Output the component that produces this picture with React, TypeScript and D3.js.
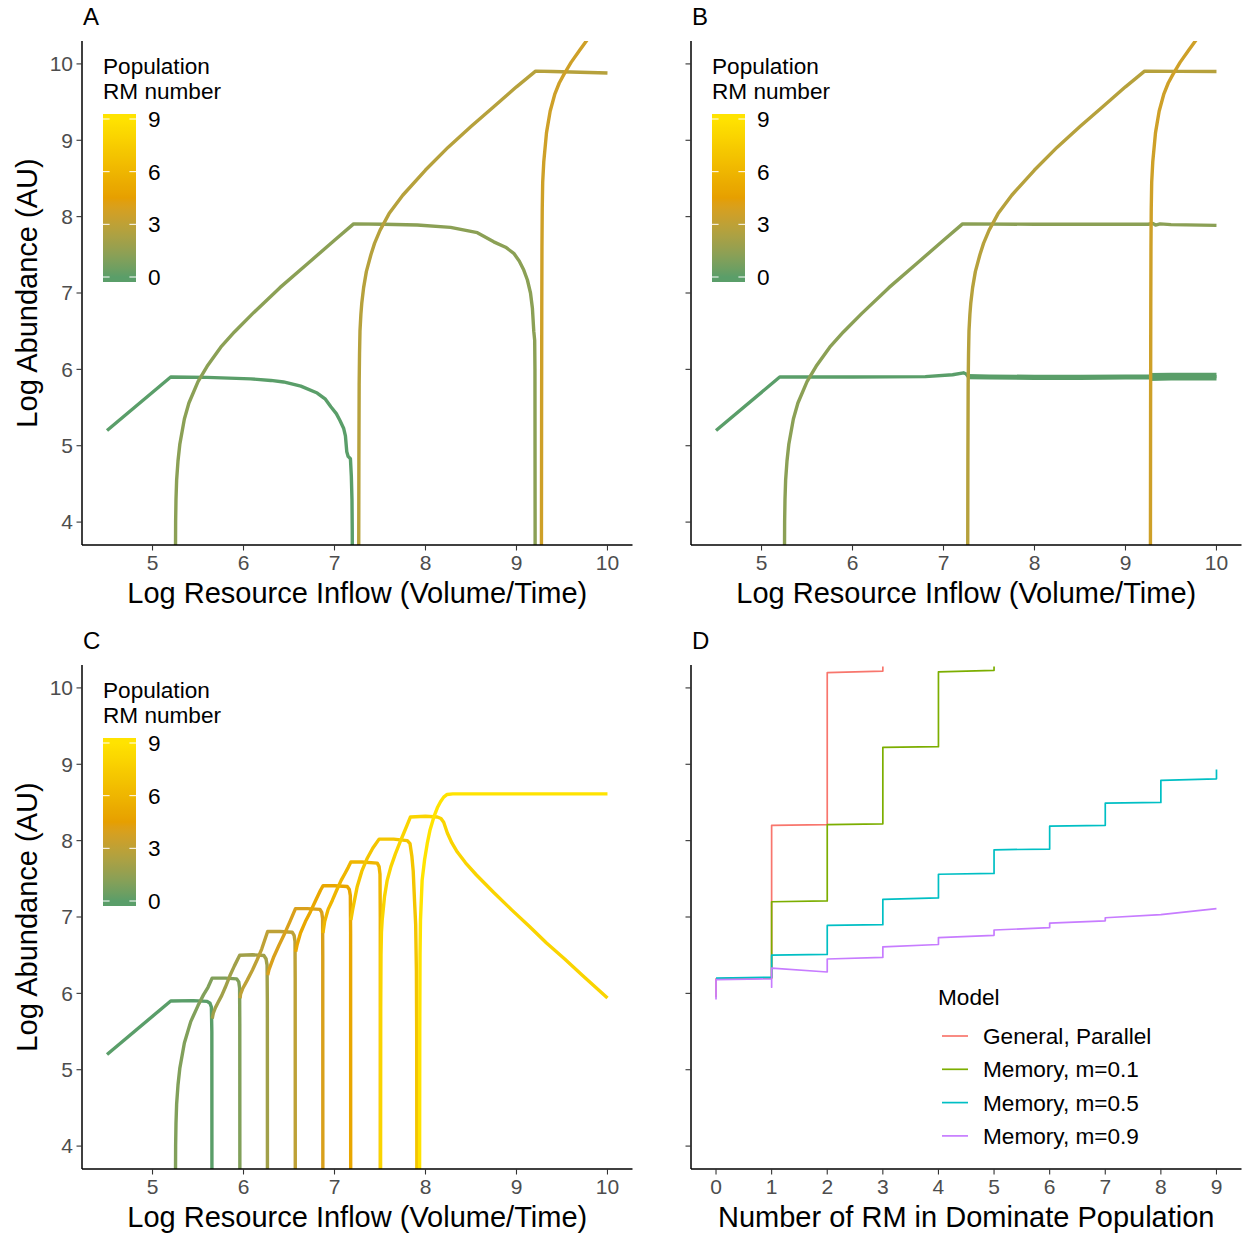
import React from 'react';
import * as d3 from 'd3';

type Pt = [number, number];

// ---------- tick values ----------
const yTicks = [4, 5, 6, 7, 8, 9, 10];
const xTicksInflow = [5, 6, 7, 8, 9, 10];
const xTicksRM = [0, 1, 2, 3, 4, 5, 6, 7, 8, 9];
const rmLegendTicks = [0, 3, 6, 9];

// colour values (Population RM number)
const rmValuesAB = [0, 1.3, 2.7, 3.6];
const rmValuesC = [0, 1, 2, 3, 4, 5, 6, 7, 8, 9];

// ---------- Panel A ----------
const A_rm0: Pt[] = [[4.5,5.2],[5.2,5.9],[5.6,5.895],[6.08,5.875],[6.3,5.855],[6.44,5.835],[6.63,5.78],[6.81,5.69],[6.9,5.61],[6.96,5.51],[7.02,5.42],[7.06,5.33],[7.1,5.23],[7.12,5.13],[7.135,4.92],[7.15,4.86],[7.175,4.83],[7.185,4.6],[7.192,4.3],[7.195,3.9],[7.196,3.5]];
const A_rm1: Pt[] = [[5.252,3.5],[5.254,4.0],[5.258,4.3],[5.265,4.55],[5.28,4.8],[5.3,5.02],[5.35,5.35],[5.4,5.56],[5.5,5.84],[5.6,6.04],[5.75,6.29],[5.9,6.49],[6.1,6.73],[6.4,7.07],[6.7,7.38],[7.0,7.69],[7.21,7.905],[7.54,7.9],[7.91,7.89],[8.275,7.86],[8.57,7.79],[8.75,7.67],[8.88,7.6],[8.97,7.52],[9.03,7.42],[9.08,7.3],[9.12,7.17],[9.154,7.0],[9.175,6.8],[9.19,6.5],[9.2,6.38],[9.203,6.0],[9.205,3.5]];
const A_rm2: Pt[] = [[7.266,3.5],[7.268,4.8],[7.271,5.8],[7.275,6.2],[7.28,6.5],[7.29,6.72],[7.3,6.87],[7.32,7.07],[7.35,7.28],[7.4,7.5],[7.44,7.65],[7.5,7.82],[7.6,8.04],[7.75,8.28],[8.0,8.61],[8.25,8.91],[8.5,9.18],[8.75,9.44],[9.0,9.7],[9.21,9.905],[9.4,9.9],[9.7,9.89],[10,9.88]];
const A_rm3: Pt[] = [[9.274,3.5],[9.276,5.5],[9.278,6.8],[9.28,7.6],[9.283,8.1],[9.288,8.45],[9.3,8.72],[9.33,9.1],[9.37,9.38],[9.42,9.6],[9.47,9.75],[9.52,9.86],[9.6,10.02],[9.7,10.19],[9.78,10.32],[9.86,10.45]];

// ---------- Panel B ----------
const B_rm0: Pt[] = [[4.5,5.2],[5.2,5.9],[6.0,5.9],[6.8,5.905],[7.1,5.93],[7.22,5.955],[7.25,5.94],[7.27,5.905],[7.5,5.9],[8.0,5.895],[8.5,5.895],[9.0,5.9],[9.26,5.9],[9.5,5.905],[10,5.905]];
const B_rm0_noise = [
  { from: 7.27, to: 9.26, amp: 0.012 },
  { from: 9.26, to: 10, amp: 0.03 },
];
const B_rm1: Pt[] = [[5.252,3.5],[5.254,4.0],[5.258,4.3],[5.265,4.55],[5.28,4.8],[5.3,5.02],[5.35,5.35],[5.4,5.56],[5.5,5.84],[5.6,6.04],[5.75,6.29],[5.9,6.49],[6.1,6.73],[6.4,7.07],[6.7,7.38],[7.0,7.69],[7.21,7.905],[8.0,7.9],[8.5,7.9],[9.0,7.9],[9.25,7.9],[9.3,7.912],[9.33,7.89],[9.38,7.905],[9.5,7.895],[10,7.885]];
const B_rm2: Pt[] = [[7.266,3.5],[7.268,4.8],[7.271,5.8],[7.275,6.2],[7.28,6.5],[7.29,6.72],[7.3,6.87],[7.32,7.07],[7.35,7.28],[7.4,7.5],[7.44,7.65],[7.5,7.82],[7.6,8.04],[7.75,8.28],[8.0,8.61],[8.25,8.91],[8.5,9.18],[8.75,9.44],[9.0,9.7],[9.21,9.905],[9.6,9.902],[10,9.9]];
const B_rm3: Pt[] = [[9.274,3.5],[9.276,5.5],[9.278,6.8],[9.28,7.6],[9.283,8.1],[9.288,8.45],[9.3,8.72],[9.33,9.1],[9.37,9.38],[9.42,9.6],[9.47,9.75],[9.52,9.86],[9.6,10.02],[9.7,10.19],[9.78,10.32],[9.86,10.45]];

// ---------- Panel C ----------
const C_rm0: Pt[] = [[4.5,5.2],[5.2,5.9],[5.45,5.905],[5.6,5.895],[5.632,5.87],[5.647,5.82],[5.652,5.5],[5.653,3.5]];
const C_rm1: Pt[] = [[5.252,3.5],[5.254,4.0],[5.258,4.3],[5.265,4.55],[5.28,4.8],[5.3,5.02],[5.35,5.35],[5.42,5.63],[5.5,5.84],[5.56,5.98],[5.61,6.08],[5.655,6.2],[5.8,6.2],[5.925,6.19],[5.948,6.15],[5.957,6.07],[5.959,5.6],[5.96,3.5]];
const C_rm2: Pt[] = [[5.656,5.67],[5.668,5.74],[5.69,5.81],[5.72,5.88],[5.76,5.97],[5.8,6.08],[5.85,6.23],[5.9,6.36],[5.958,6.5],[6.1,6.505],[6.225,6.495],[6.248,6.45],[6.259,6.37],[6.262,5.9],[6.263,3.5]];
const C_rm3: Pt[] = [[5.962,5.935],[5.968,5.99],[5.99,6.06],[6.04,6.17],[6.1,6.31],[6.15,6.44],[6.2,6.58],[6.265,6.81],[6.4,6.81],[6.535,6.8],[6.556,6.76],[6.566,6.68],[6.568,6.2],[6.569,3.5]];
const C_rm4: Pt[] = [[6.266,6.24],[6.28,6.31],[6.333,6.48],[6.39,6.63],[6.443,6.76],[6.51,6.94],[6.571,7.11],[6.7,7.11],[6.84,7.1],[6.86,7.06],[6.869,6.98],[6.871,6.5],[6.872,3.5]];
const C_rm5: Pt[] = [[6.573,6.545],[6.59,6.64],[6.626,6.79],[6.68,6.94],[6.736,7.07],[6.79,7.21],[6.846,7.35],[6.875,7.41],[7.0,7.41],[7.14,7.4],[7.163,7.36],[7.174,7.28],[7.177,6.8],[7.178,3.5]];
const C_rm6: Pt[] = [[6.873,6.79],[6.892,6.94],[6.93,7.1],[6.977,7.22],[7.02,7.34],[7.073,7.48],[7.115,7.57],[7.151,7.65],[7.18,7.72],[7.3,7.72],[7.47,7.705],[7.49,7.66],[7.5,7.56],[7.503,7.0],[7.504,3.5]];
const C_rm7: Pt[] = [[7.18,6.96],[7.2,7.1],[7.25,7.4],[7.3,7.6],[7.36,7.77],[7.42,7.9],[7.49,8.02],[7.65,8.02],[7.8,8.0],[7.83,7.96],[7.85,7.8],[7.865,7.6],[7.88,7.2],[7.892,6.9],[7.9,6.3],[7.903,5.5],[7.905,3.5]];
const C_rm8: Pt[] = [[7.506,3.5],[7.508,5.8],[7.511,6.5],[7.516,6.8],[7.524,6.96],[7.55,7.27],[7.579,7.48],[7.62,7.66],[7.67,7.83],[7.72,7.98],[7.762,8.1],[7.8,8.21],[7.835,8.31],[8.0,8.32],[8.13,8.31],[8.17,8.29],[8.2,8.24],[8.24,8.1],[8.29,7.97],[8.35,7.85],[8.44,7.71],[8.56,7.55],[8.75,7.32],[8.95,7.09],[9.14,6.88],[9.33,6.66],[9.53,6.45],[9.72,6.24],[10,5.94]];
const C_rm9: Pt[] = [[7.935,3.5],[7.937,5.5],[7.94,6.5],[7.945,6.96],[7.963,7.48],[7.99,7.75],[8.019,7.96],[8.05,8.14],[8.092,8.31],[8.13,8.43],[8.165,8.51],[8.2,8.57],[8.238,8.605],[8.3,8.612],[9.0,8.612],[10,8.612]];

// ---------- Panel D ----------
const modelNames = ['General, Parallel', 'Memory, m=0.1', 'Memory, m=0.5', 'Memory, m=0.9'];
const D_general: Pt[] = [[0,5.95],[0,6.19],[1,6.2],[1,8.2],[2,8.21],[2,10.2],[3,10.22],[3,10.28]];
const D_m01: Pt[] = [[0,6.19],[1,6.2],[1,7.2],[2,7.21],[2,8.21],[3,8.22],[3,9.22],[4,9.23],[4,10.21],[5,10.23],[5,10.28]];
const D_m05: Pt[] = [[0,6.2],[1,6.21],[1,6.5],[2,6.51],[2,6.89],[3,6.9],[3,7.23],[4,7.25],[4,7.56],[5,7.57],[5,7.88],[6,7.89],[6,8.19],[7,8.2],[7,8.49],[8,8.5],[8,8.79],[9,8.81],[9,8.93]];
const D_m09: Pt[] = [[0,5.92],[0,6.18],[1,6.19],[1,6.08],[1,6.33],[2,6.28],[2,6.45],[3,6.47],[3,6.61],[4,6.64],[4,6.73],[5,6.76],[5,6.83],[6,6.86],[6,6.92],[7,6.95],[7,6.99],[8,7.03],[9,7.11]];

// ---------- styling ----------
const FONT = "'Liberation Sans', Arial, Helvetica, sans-serif";
const modelColors = ['#F8766D', '#7CAE00', '#00BFC4', '#C77CFF'];
const rmColor = d3.scaleLinear<string>()
  .domain([0, 4.5, 9])
  .range(['#5A9E69', '#E69F00', '#FFE300'])
  .interpolate(d3.interpolateLab)
  .clamp(true);

type Box = { l: number; r: number; t: number; b: number };
const boxA: Box = { l: 82, r: 632.5, t: 41, b: 545 };
const boxB: Box = { l: 691, r: 1241.5, t: 41, b: 545 };
const boxC: Box = { l: 82, r: 632.5, t: 665, b: 1169 };
const boxD: Box = { l: 691, r: 1241.5, t: 665, b: 1169 };

const LW = 3.4;
const TITLE_FS = 29;
const TICK_FS = 21;
const LEG_FS = 22.6;

type Series = { rm: number; pts: Pt[]; noise?: { from: number; to: number; amp: number }[] };

function Axes({ box, x, y, xTicks, showYLabels, xTitle, letter, yTitle }: any) {
  return (
    <g>
      <line x1={box.l} x2={box.l} y1={box.t} y2={box.b} stroke="#000" strokeWidth={1.5} />
      <line x1={box.l} x2={box.r} y1={box.b} y2={box.b} stroke="#000" strokeWidth={1.5} />
      {yTicks.map((v) => (
        <g key={'y' + v}>
          <line x1={box.l - 5.5} x2={box.l} y1={y(v)} y2={y(v)} stroke="#333" strokeWidth={1.1} />
          {showYLabels && (
            <text x={box.l - 9} y={y(v)} dy="0.35em" textAnchor="end" fontSize={TICK_FS} fill="#4D4D4D" fontFamily={FONT}>{v}</text>
          )}
        </g>
      ))}
      {xTicks.map((v: number) => (
        <g key={'x' + v}>
          <line x1={x(v)} x2={x(v)} y1={box.b} y2={box.b + 5.5} stroke="#333" strokeWidth={1.1} />
          <text x={x(v)} y={box.b + 18} dy="0.35em" textAnchor="middle" fontSize={TICK_FS} fill="#4D4D4D" fontFamily={FONT}>{v}</text>
        </g>
      ))}
      <text x={(box.l + box.r) / 2} y={box.b + 58} textAnchor="middle" fontSize={TITLE_FS} fill="#000" fontFamily={FONT}>{xTitle}</text>
      {yTitle && (
        <text transform={`translate(37,${(box.t + box.b) / 2}) rotate(-90)`} textAnchor="middle" fontSize={TITLE_FS} fill="#000" fontFamily={FONT}>{yTitle}</text>
      )}
      <text x={box.l + 1} y={box.t - 16.5} fontSize={24} fill="#000" fontFamily={FONT}>{letter}</text>
    </g>
  );
}

function RMLegend({ x0, y0 }: { x0: number; y0: number }) {
  const barTop = y0 + 40;
  const barBot = y0 + 208;
  const lab = d3.scaleLinear().domain([0, 9]).range([y0 + 203, y0 + 45]);
  const vTop = lab.invert(barTop);
  const vBot = lab.invert(barBot);
  const stops = d3.range(0, 9.001, 0.25);
  const gid = 'grad' + y0;
  return (
    <g>
      <defs>
        <linearGradient id={gid} x1="0" y1="1" x2="0" y2="0">
          <stop offset={0} stopColor={rmColor(0)} />
          {stops.map((v) => (
            <stop key={v} offset={(v - vBot) / (vTop - vBot)} stopColor={rmColor(v)} />
          ))}
          <stop offset={1} stopColor={rmColor(9)} />
        </linearGradient>
      </defs>
      <text x={x0} y={y0} fontSize={LEG_FS} fontFamily={FONT} fill="#000">Population</text>
      <text x={x0} y={y0 + 25} fontSize={LEG_FS} fontFamily={FONT} fill="#000">RM number</text>
      <rect x={x0} y={barTop} width={33} height={barBot - barTop} fill={`url(#${gid})`} />
      {rmLegendTicks.map((v) => (
        <g key={v}>
          <line x1={x0} x2={x0 + 6.6} y1={lab(v)} y2={lab(v)} stroke="#fff" strokeWidth={1} />
          <line x1={x0 + 33 - 6.6} x2={x0 + 33} y1={lab(v)} y2={lab(v)} stroke="#fff" strokeWidth={1} />
          <text x={x0 + 45} y={lab(v)} dy="0.35em" fontSize={LEG_FS} fontFamily={FONT} fill="#000">{v}</text>
        </g>
      ))}
    </g>
  );
}

function InflowPanel({ box, series, letter, showYLabels, id }: { box: Box; series: Series[]; letter: string; showYLabels: boolean; id: string }) {
  const x = d3.scaleLinear().domain([4.225, 10.275]).range([box.l, box.r]);
  const y = d3.scaleLinear().domain([3.7, 10.3]).range([box.b, box.t]);
  const line = d3.line<Pt>().x((d) => x(d[0])).y((d) => y(d[1]));
  const ppu = Math.abs(y(1) - y(0));
  return (
    <g>
      <defs>
        <clipPath id={'clip' + id}>
          <rect x={box.l} y={box.t} width={box.r - box.l} height={box.b - box.t} />
        </clipPath>
      </defs>
      <g clipPath={`url(#clip${id})`}>
        {series.map((s, i) => (
          <g key={i}>
            <path d={line(s.pts) || ''} fill="none" stroke={rmColor(s.rm)} strokeWidth={LW} strokeLinejoin="round" strokeLinecap="butt" />
            {(s.noise || []).map((n, j) => (
              <path key={j} d={line(s.pts.filter((p) => p[0] >= n.from && p[0] <= n.to)) || ''} fill="none"
                stroke={rmColor(s.rm)} strokeWidth={LW + 2 * n.amp * ppu} strokeLinejoin="round" strokeLinecap="butt" />
            ))}
          </g>
        ))}
      </g>
      <Axes box={box} x={x} y={y} xTicks={xTicksInflow} showYLabels={showYLabels}
        xTitle="Log Resource Inflow (Volume/Time)" letter={letter} yTitle={showYLabels ? 'Log Abundance (AU)' : null} />
      <RMLegend x0={box.l + 21} y0={box.t + 33} />
    </g>
  );
}

function ModelPanel({ box }: { box: Box }) {
  const x = d3.scaleLinear().domain([-0.45, 9.45]).range([box.l, box.r]);
  const y = d3.scaleLinear().domain([3.7, 10.3]).range([box.b, box.t]);
  const line = d3.line<Pt>().x((d) => x(d[0])).y((d) => y(d[1]));
  const data = [D_general, D_m01, D_m05, D_m09];
  const lx = 938;
  const ly = 1005;
  return (
    <g>
      <defs>
        <clipPath id="clipD">
          <rect x={box.l} y={box.t} width={box.r - box.l} height={box.b - box.t} />
        </clipPath>
      </defs>
      <g clipPath="url(#clipD)">
        {data.map((pts, i) => (
          <path key={i} d={line(pts) || ''} fill="none" stroke={modelColors[i]} strokeWidth={1.7} strokeLinejoin="round" />
        ))}
      </g>
      <Axes box={box} x={x} y={y} xTicks={xTicksRM} showYLabels={false}
        xTitle="Number of RM in Dominate Population" letter="D" yTitle={null} />
      <text x={lx} y={ly} fontSize={LEG_FS} fontFamily={FONT} fill="#000">Model</text>
      {modelNames.map((name, i) => {
        const cy = 1036 + i * 33.3;
        return (
          <g key={name}>
            <line x1={lx + 4} x2={lx + 30} y1={cy} y2={cy} stroke={modelColors[i]} strokeWidth={1.7} />
            <text x={lx + 45} y={cy} dy="0.35em" fontSize={LEG_FS} fontFamily={FONT} fill="#000">{name}</text>
          </g>
        );
      })}
    </g>
  );
}

export default function App() {
  const ptsAB = [[A_rm0, A_rm1, A_rm2, A_rm3], [B_rm0, B_rm1, B_rm2, B_rm3]];
  const seriesA: Series[] = ptsAB[0].map((pts, i) => ({ rm: rmValuesAB[i], pts }));
  const seriesB: Series[] = ptsAB[1].map((pts, i) => ({ rm: rmValuesAB[i], pts, noise: i === 0 ? B_rm0_noise : undefined }));
  const seriesC: Series[] = [C_rm0, C_rm1, C_rm2, C_rm3, C_rm4, C_rm5, C_rm6, C_rm7, C_rm8, C_rm9].map((pts, i) => ({ rm: rmValuesC[i], pts }));
  return (
    <svg width={1248} height={1236} style={{ position: 'absolute', left: 0, top: 0, display: 'block' }}
      xmlns="http://www.w3.org/2000/svg">
      <rect x={0} y={0} width={1248} height={1236} fill="#fff" />
      <InflowPanel box={boxA} series={seriesA} letter="A" showYLabels={true} id="A" />
      <InflowPanel box={boxB} series={seriesB} letter="B" showYLabels={false} id="B" />
      <InflowPanel box={boxC} series={seriesC} letter="C" showYLabels={true} id="C" />
      <ModelPanel box={boxD} />
    </svg>
  );
}
